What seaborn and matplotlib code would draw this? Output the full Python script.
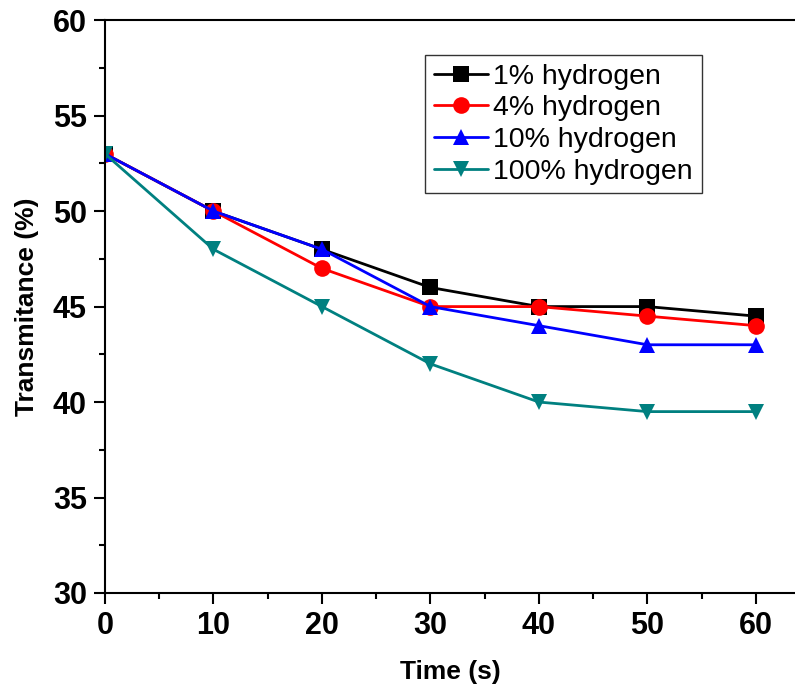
import pandas as pd
import matplotlib.pyplot as plt
import seaborn as sns
from matplotlib.ticker import MultipleLocator

sns.set_style('white')
plt.rcParams['font.family'] = ['Liberation Sans', 'DejaVu Sans']
plt.rcParams['text.color'] = 'black'
plt.rcParams['axes.labelcolor'] = 'black'
plt.rcParams['xtick.color'] = 'black'
plt.rcParams['ytick.color'] = 'black'

time = [0, 10, 20, 30, 40, 50, 60]
labels = ['1% hydrogen', '4% hydrogen', '10% hydrogen', '100% hydrogen']
h1 = [53, 50, 48, 46, 45, 45, 44.5]
h4 = [53, 50, 47, 45, 45, 44.5, 44]
h10 = [53, 50, 48, 45, 44, 43, 43]
h100 = [53, 48, 45, 42, 40, 39.5, 39.5]

colors = ['#000000', '#ff0000', '#0000ff', '#008080']
markers = ['s', 'o', '^', 'v']

df = pd.concat([pd.DataFrame({'time': time, 'trans': v, 'series': lab})
                for v, lab in zip([h1, h4, h10, h100], labels)])

fig = plt.figure(figsize=(7.95, 6.96), dpi=100)
ax = fig.add_axes([0.132, 0.148, 0.868, 0.823])
sns.lineplot(data=df, x='time', y='trans', hue='series', style='series',
             palette=dict(zip(labels, colors)), markers=dict(zip(labels, markers)),
             dashes=False, linewidth=2, markersize=12, markeredgewidth=0, ax=ax)

ax.set_xlim(0, 63.6)
ax.set_ylim(30, 60)
ax.xaxis.set_major_locator(MultipleLocator(10))
ax.xaxis.set_minor_locator(MultipleLocator(5))
ax.yaxis.set_major_locator(MultipleLocator(5))
ax.yaxis.set_minor_locator(MultipleLocator(2.5))
ax.tick_params(which='major', direction='out', length=8, width=1.5, labelsize=22,
               bottom=True, left=True, pad=5)
ax.tick_params(which='minor', direction='out', length=4, width=1.5, bottom=True, left=True)
for lab in ax.get_xticklabels() + ax.get_yticklabels():
    lab.set_fontweight('bold')
for s in ['left', 'bottom', 'top']:
    ax.spines[s].set_linewidth(1.5)
    ax.spines[s].set_color('black')
ax.spines['right'].set_visible(False)

ax.set_xlabel('Time (s)', fontsize=19, fontweight='bold', labelpad=14)
ax.set_ylabel('Transmitance (%)', fontsize=19, fontweight='bold', labelpad=10)

leg = ax.legend(loc='upper left', bbox_to_anchor=(0.464, 0.939), fontsize=20.5,
                frameon=True, fancybox=False, borderpad=0.3, labelspacing=0.2,
                handlelength=1.9, handletextpad=0.2, borderaxespad=0)
leg.get_frame().set_edgecolor('black')
leg.get_frame().set_linewidth(1.0)

plt.savefig('out.png', dpi=100)
